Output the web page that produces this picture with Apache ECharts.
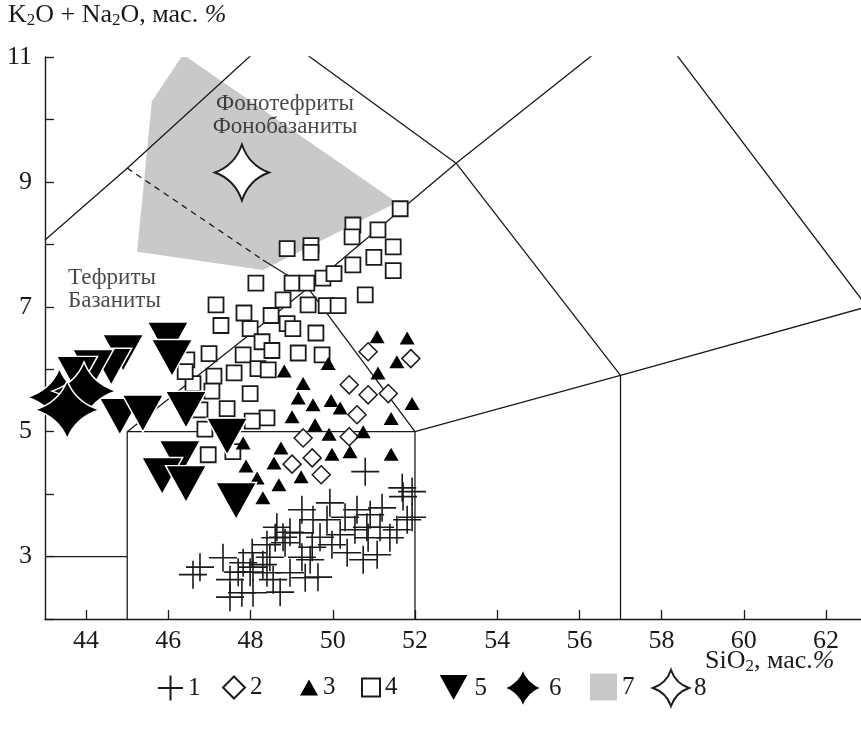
<!DOCTYPE html>
<html>
<head>
<meta charset="utf-8">
<script src="https://cdn.jsdelivr.net/npm/echarts@6/dist/echarts.min.js"></script>
<style>
html, body { margin: 0; padding: 0; background: #fff; }
#chart { width: 861px; height: 740px; }
</style>
</head>
<body>
<div id="chart"></div>
<script>
const xTicks = [44, 46, 48, 50, 52, 54, 56, 58, 60, 62]
const yTicks = [2, 3, 4, 5, 6, 7, 8, 9, 10, 11]
const yLabels = [3, 5, 7, 9, 11]

// TAS field boundaries
const boundaries = [
  [[43, 3], [45, 3]],
  [[45, 0], [45, 5], [52, 5], [52, 0]],
  [[52, 5], [57, 5.9], [57, 0]],
  [[57, 5.9], [63, 7]],
  [[45, 5], [49.4, 7.3], [52, 5]],
  [[49.4, 7.3], [53, 9.3], [57, 5.9]],
  [[53, 9.3], [57.6, 11.7], [63, 7]],
  [[48.4, 11.5], [53, 9.3]],
  [[43, 8.07], [45.0, 9.22], [48.8, 11.5]],
  [[48.3, 7.75], [49.4, 7.3]]
]
const dashedBoundary = [[45.0, 9.22], [48.3, 7.75]]

const regionNames = ['Фонотефриты\nФонобазаниты', 'Тефриты\nБазаниты']
const regionAnchors = [[48.84, 10.06], [43.56, 7.27]]

const crosses = [
  [50.79, 4.36], [51.69, 4.10], [51.93, 4.04], [51.71, 3.96], [51.93, 3.63], [51.81, 3.59],
  [51.20, 3.78], [50.91, 3.67], [50.59, 3.75], [50.30, 3.63], [49.93, 3.86], [49.86, 3.59],
  [49.25, 3.75], [49.52, 3.59], [48.64, 3.47], [48.96, 3.39], [49.20, 3.38], [49.69, 3.31],
  [50.18, 3.35], [50.54, 3.43], [50.83, 3.47], [51.15, 3.47], [51.56, 3.43], [51.39, 3.30],
  [50.86, 3.30], [48.60, 3.30], [48.84, 3.22], [49.50, 3.15], [49.98, 3.19], [50.35, 3.06],
  [50.74, 2.95], [51.08, 3.03], [49.25, 2.99], [49.45, 2.95], [48.47, 2.99], [48.30, 2.87],
  [48.06, 2.83], [47.82, 2.90], [47.70, 2.75], [47.99, 2.75], [48.40, 2.74], [48.96, 2.74],
  [49.33, 2.66], [49.64, 2.67], [48.72, 2.43], [48.06, 2.42], [47.79, 2.42], [48.79, 3.31],
  [48.40, 3.19], [48.04, 3.06], [46.77, 2.83], [47.33, 2.98], [46.60, 2.71], [47.50, 2.63],
  [48.55, 2.63], [47.50, 2.35]
]
const diamonds = [
  [50.86, 6.28], [51.90, 6.17], [50.40, 5.75], [50.86, 5.59], [51.35, 5.61], [50.59, 5.27],
  [49.28, 4.90], [50.40, 4.92], [49.01, 4.48], [49.50, 4.58], [49.72, 4.31]
]
const triangles = [
  [51.08, 6.52], [51.81, 6.50], [51.56, 6.12], [49.89, 6.09], [48.82, 5.97], [51.10, 5.94],
  [49.28, 5.77], [49.16, 5.54], [49.52, 5.43], [49.96, 5.50], [50.18, 5.38], [51.93, 5.45],
  [49.01, 5.24], [49.57, 5.11], [51.42, 5.21], [50.74, 5.00], [49.91, 4.96], [47.82, 4.82],
  [48.74, 4.74], [49.98, 4.64], [50.42, 4.68], [51.42, 4.64], [47.89, 4.45], [48.57, 4.50],
  [48.16, 4.26], [49.23, 4.28], [48.69, 4.15], [48.30, 3.94]
]
const squares = [
  [51.64, 8.57], [50.49, 8.31], [50.47, 8.12], [51.10, 8.23], [51.47, 7.96], [48.89, 7.93],
  [49.47, 7.98], [49.47, 7.87], [50.49, 7.67], [51.00, 7.79], [51.47, 7.58], [48.13, 7.38],
  [49.01, 7.38], [49.37, 7.38], [49.76, 7.46], [50.03, 7.53], [48.79, 7.11], [49.40, 7.03],
  [49.84, 7.02], [50.13, 7.02], [50.79, 7.19], [47.16, 7.03], [47.84, 6.90], [48.50, 6.86],
  [47.28, 6.70], [47.99, 6.65], [48.89, 6.73], [49.03, 6.65], [49.59, 6.58], [48.28, 6.44],
  [46.99, 6.25], [47.82, 6.23], [48.52, 6.30], [49.16, 6.26], [49.74, 6.23], [48.18, 6.01],
  [48.43, 5.99], [47.11, 5.89], [47.60, 5.94], [46.60, 5.77], [47.06, 5.65], [47.99, 5.61],
  [47.43, 5.37], [48.40, 5.22], [48.04, 5.17], [46.89, 5.04], [46.77, 5.35], [46.45, 6.15],
  [46.41, 5.96], [46.97, 4.63], [47.57, 4.68]
]
const invTriangles = [
  [45.99, 6.46], [46.09, 6.18], [44.90, 6.26], [44.61, 6.04], [44.17, 6.02], [43.78, 5.91],
  [44.82, 5.24], [45.38, 5.29], [46.43, 5.35], [47.43, 4.92], [46.28, 4.56], [45.85, 4.29],
  [46.43, 4.16], [47.65, 3.89]
]
const stars = [[43.35, 5.55], [43.95, 5.65], [43.54, 5.35]]
const greyField = [[46.36, 11.04], [45.60, 10.29], [45.24, 7.88], [48.30, 7.59], [51.56, 8.67]]
const openStars = [[47.79, 9.15]]

const FONT = 'Liberation Serif'
const INK = '#1a1a1a'
const GREY = '#c9c9c9'
const STAR = 'path://M50,0 Q63,37 100,50 Q63,63 50,100 Q37,63 0,50 Q37,37 50,0 Z'
const CROSS = 'path://M50,0 L50,100 M0,50 L100,50'
const INV_TRI = 'path://M0,0 L100,0 L50,90 Z'

// one legend per key so every icon gets its own size, like the printed key
const legendKeys = [
  { name: '1', left: 157, w: 25, h: 25 },
  { name: '2', left: 222, w: 22, h: 22 },
  { name: '3', left: 300, w: 18, h: 16 },
  { name: '4', left: 361, w: 18, h: 18 },
  { name: '5', left: 437, w: 32, h: 28 },
  { name: '6', left: 503, w: 42, h: 38 },
  { name: '7', left: 590, w: 27, h: 27, icon: 'rect', itemStyle: { color: GREY } },
  { name: '8', left: 652, w: 36, h: 36 }
]
const LEGEND_MID = 687
const LEGEND_TEXT_H = 24

const chart = echarts.init(document.getElementById('chart'), null, { renderer: 'canvas' })

const lineSeries = boundaries.map(pts => ({
  type: 'line',
  data: pts,
  showSymbol: false,
  silent: true,
  clip: true,
  z: 2,
  lineStyle: { color: INK, width: 1.3 }
}))

const subRich = {
  s: { fontSize: 17, fontFamily: FONT, padding: [12, 0, 0, 0], fill: INK },
  i: { fontSize: 26, fontFamily: FONT, fontStyle: 'italic', fill: INK }
}

const option = {
  animation: false,
  backgroundColor: '#fff',
  grid: { left: 45, right: 0, top: 57, bottom: 121 },
  xAxis: {
    type: 'value',
    min: 43,
    max: 62.85,
    axisLine: { lineStyle: { color: INK, width: 1.4 } },
    axisTick: { inside: true, length: 9, customValues: xTicks, lineStyle: { color: INK, width: 1.3 } },
    axisLabel: { customValues: xTicks, margin: 9, color: INK, fontFamily: FONT, fontSize: 26 },
    splitLine: { show: false }
  },
  yAxis: {
    type: 'value',
    min: 2,
    max: 11,
    axisLine: { show: true, lineStyle: { color: INK, width: 1.4 } },
    axisTick: { show: true, inside: true, length: 9, customValues: yTicks, lineStyle: { color: INK, width: 1.3 } },
    axisLabel: { customValues: yLabels, margin: 13, color: INK, fontFamily: FONT, fontSize: 26 },
    splitLine: { show: false }
  },
  legend: legendKeys.map(k => ({
    left: k.left,
    top: LEGEND_MID - Math.max(k.h, LEGEND_TEXT_H) / 2,
    padding: 0,
    itemWidth: k.w,
    itemHeight: k.h,
    selectedMode: false,
    textStyle: { color: INK, fontFamily: FONT, fontSize: 25 },
    data: [k.icon ? { name: k.name, icon: k.icon, itemStyle: k.itemStyle } : { name: k.name }]
  })),
  graphic: [
    {
      type: 'text', left: 8, top: 2,
      style: { text: 'K{s|2}O + Na{s|2}O, мас. {i|%}', fill: INK, font: '26px "Liberation Serif"', rich: subRich }
    },
    {
      type: 'text', left: 705, top: 648,
      style: { text: 'SiO{s|2}, мас.{i|%}', fill: INK, font: '26px "Liberation Serif"', rich: subRich }
    }
  ],
  series: [
    {
      name: '7',
      type: 'custom',
      clip: true,
      silent: true,
      z: 1,
      data: greyField,
      renderItem: (params, api) => {
        if (params.dataIndex !== 0) return
        return {
          type: 'polygon',
          shape: { points: greyField.map(p => api.coord(p)) },
          style: { fill: GREY }
        }
      }
    },
    ...lineSeries,
    {
      type: 'line',
      data: dashedBoundary,
      showSymbol: false,
      silent: true,
      z: 2,
      lineStyle: { color: INK, width: 1.3, type: [6, 5] }
    },
    {
      type: 'scatter',
      symbolSize: 0,
      silent: true,
      z: 3,
      data: regionNames.map((name, i) => ({
        name,
        value: regionAnchors[i],
        label: i === 1 ? { position: 'right', distance: 0, align: 'left' } : { position: 'inside', align: 'center' }
      })),
      label: {
        show: true,
        formatter: '{b}',
        color: INK,
        fontFamily: FONT,
        fontSize: 23,
        lineHeight: 23
      }
    },
    {
      name: '4', type: 'scatter', data: squares, symbol: 'rect', symbolSize: 15, z: 4,
      itemStyle: { color: '#fff', borderColor: INK, borderWidth: 1.8, opacity: 1 }
    },
    {
      name: '2', type: 'scatter', data: diamonds, symbol: 'diamond', symbolSize: 18, z: 5,
      itemStyle: { color: '#fff', borderColor: INK, borderWidth: 1.5, opacity: 1 }
    },
    {
      name: '3', type: 'scatter', data: triangles, symbol: 'triangle', symbolSize: [15, 13], z: 6,
      itemStyle: { color: '#000', opacity: 1 }
    },
    {
      name: '1', type: 'scatter', data: crosses, symbol: CROSS, symbolSize: 28, z: 6,
      itemStyle: { color: 'rgba(0,0,0,0)', borderColor: INK, borderWidth: 1.6, opacity: 1 }
    },
    {
      name: '5', type: 'scatter', data: invTriangles, symbol: INV_TRI, symbolSize: [41, 37], z: 7,
      itemStyle: { color: '#000', borderColor: '#fff', borderWidth: 1.5, opacity: 1 }
    },
    {
      name: '6', type: 'scatter', data: stars, symbol: STAR, symbolSize: [64, 58], z: 8,
      itemStyle: { color: '#000', borderColor: '#fff', borderWidth: 1.5, opacity: 1 }
    },
    {
      name: '8', type: 'scatter', data: openStars, symbol: STAR, symbolSize: [54, 56], z: 8,
      itemStyle: { color: '#fff', borderColor: INK, borderWidth: 2, opacity: 1 }
    }
  ]
}

chart.setOption(option)
window.addEventListener('resize', () => chart.resize())
</script>
</body>
</html>
